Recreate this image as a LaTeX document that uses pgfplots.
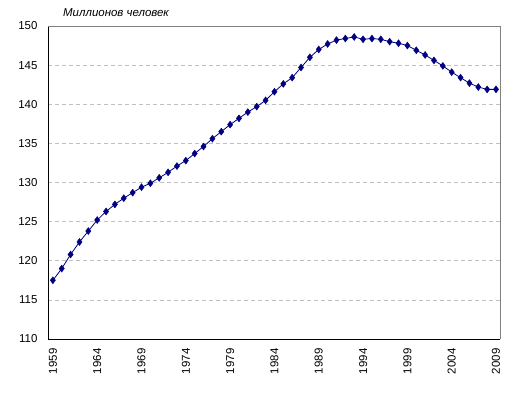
\documentclass[border=0pt]{standalone}
\usepackage{pgfplots}
\pgfplotsset{compat=1.18}
\usepackage{fontspec}
\setmainfont{Liberation Sans}
\definecolor{navy}{RGB}{0,0,128}
\definecolor{gridgray}{RGB}{192,192,192}
\definecolor{framegray}{RGB}{128,128,128}
\begin{document}
\begin{tikzpicture}[x=1bp,y=1bp]
\useasboundingbox (-48,-55) rectangle (467,339);
\begin{axis}[
  at={(0,0)}, anchor=south west,
  scale only axis, width=452bp, height=313bp,
  xmin=1958.45, xmax=2009.45, ymin=110, ymax=150,
  ytick={110,115,...,150}, xtick={1959,1964,...,2009},
  axis lines*=left,
  axis line style={black, line width=0.9bp, -},
  major tick length=0pt,
  ymajorgrids,
  grid style={gridgray, dash pattern=on 4bp off 3bp, line width=0.7bp},
  /pgf/number format/1000 sep=,
  /pgf/number format/assume math mode=true,
  tick label style={font=\fontsize{11.5}{13}\selectfont},
  xticklabel style={rotate=90, anchor=east},
  xticklabel shift=6bp,
  yticklabel shift=7bp,
  clip=false,
]
\draw[framegray, line width=0.9bp] (rel axis cs:0,1) -- (rel axis cs:1,1) -- (rel axis cs:1,0);
\addplot[navy, line width=0.8bp, mark=diamond*, mark size=3.5bp, mark options={fill=navy, draw=navy, line width=0.4bp}] coordinates {
(1959,117.5) (1960,119.0) (1961,120.8) (1962,122.4) (1963,123.8) (1964,125.2)
(1965,126.3) (1966,127.2) (1967,128.0) (1968,128.7) (1969,129.4) (1970,129.9)
(1971,130.6) (1972,131.3) (1973,132.1) (1974,132.8) (1975,133.7) (1976,134.6)
(1977,135.6) (1978,136.5) (1979,137.4) (1980,138.2) (1981,139.0) (1982,139.7)
(1983,140.5) (1984,141.6) (1985,142.6) (1986,143.4) (1987,144.7) (1988,146.0)
(1989,147.0) (1990,147.7) (1991,148.2) (1992,148.4) (1993,148.6) (1994,148.3)
(1995,148.4) (1996,148.3) (1997,148.0) (1998,147.8) (1999,147.5) (2000,146.9)
(2001,146.3) (2002,145.6) (2003,144.9) (2004,144.1) (2005,143.4) (2006,142.7)
(2007,142.2) (2008,141.9) (2009,141.9)
};
\end{axis}
\node[anchor=west, font=\itshape\fontsize{11.5}{13}\selectfont, inner sep=0pt] at (15,326) {Миллионов человек};
\end{tikzpicture}
\end{document}
